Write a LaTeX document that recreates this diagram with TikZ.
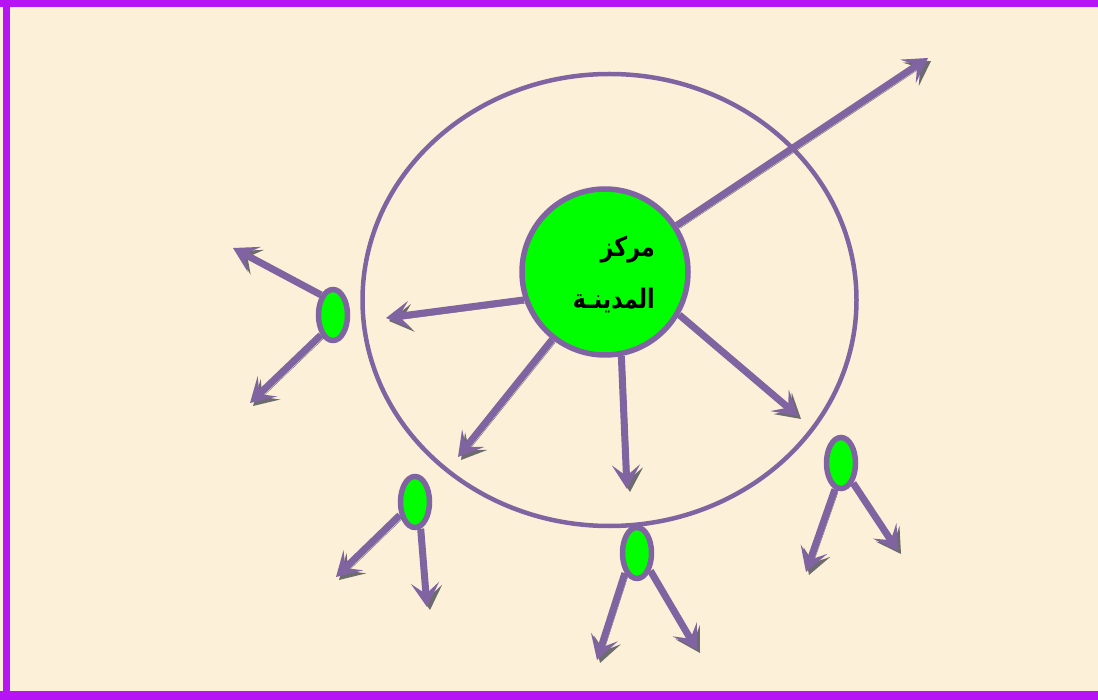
\documentclass[tikz,border=0pt]{standalone}
\usepackage{fontspec}
\newfontfamily\arabicfont[Script=Arabic,BoldFont={DejaVu Sans Bold},FakeStretch=0.82]{DejaVu Sans}
\TeXXeTstate=1
\usetikzlibrary{arrows.meta,shapes.geometric}
\definecolor{bgcream}{HTML}{FCF0D9}
\definecolor{frame}{HTML}{B614F4}
\definecolor{lpurple}{HTML}{8064A2}
\definecolor{lgreen}{HTML}{00FF00}
\begin{document}
\begin{tikzpicture}[x=1pt,y=-1pt,
  arr/.style={line width=7pt,draw=lpurple,
    -{Stealth[length=24pt,width=28pt,inset=11pt]},
    preaction={draw=gray!85!black,transform canvas={shift={(3pt,-3pt)}}}},
  small/.style={ellipse,draw=lpurple,fill=lgreen,line width=5.5pt,inner sep=0pt,
    minimum width=29pt,minimum height=51pt},
  word/.style={font=\arabicfont\bfseries\fontsize{27}{30}\selectfont,anchor=east,inner sep=0pt}]
\useasboundingbox (0,0) rectangle (1098,700);
\fill[frame] (0,0) rectangle (1098,700);
\fill[bgcream] (10,7) rectangle (1098,691);
\fill[bgcream] (0,7) rectangle (3,691);
% big ring
\draw[lpurple,line width=4.5pt] (609.5,300) ellipse [x radius=247pt,y radius=226pt];
% centre
\node[circle,draw=lpurple,fill=lgreen,line width=5.5pt,minimum size=166pt,inner sep=0pt] (c) at (605,272) {};
\node[word] (w1) at (655,250) {\beginR مركز\endR};
\node[word] (w2) at (655,300) {\beginR المدينـة\endR};
% small centres
\node[small] (e1) at (333,315) {};
\node[small] (e2) at (415,502) {};
\node[small] (e3) at (637,553) {};
\node[small] (e4) at (841,463) {};
% arrow tips
\coordinate (t1) at (928,58);
\coordinate (t2) at (386,318);
\coordinate (t3) at (458,457);
\coordinate (t4) at (627,489);
\coordinate (t5) at (798,416);
\coordinate (t6) at (233,248);
\coordinate (t7) at (250,403);
\coordinate (t8) at (336,577);
\coordinate (t9) at (427,607);
\coordinate (t10) at (597,660);
\coordinate (t11) at (697,650);
\coordinate (t12) at (806,572);
\coordinate (t13) at (898,551);
% arrows
\draw[arr] (c.33) -- (t1);
\draw[arr] (c.199) -- (t2);
\draw[arr] (c.232) -- (t3);
\draw[arr] (c.281) -- (t4);
\draw[arr] (c.330) -- (t5);
\draw[arr] (e1.121) -- (t6);
\draw[arr] (e1.239) -- (t7);
\draw[arr] (e2.221) -- (t8);
\draw[arr] (e2.282) -- (t9);
\draw[arr] (e3.239) -- (t10);
\draw[arr] (e3.307) -- (t11);
\draw[arr] (e4.257) -- (t12);
\draw[arr] (e4.301) -- (t13);
\end{tikzpicture}
\end{document}
